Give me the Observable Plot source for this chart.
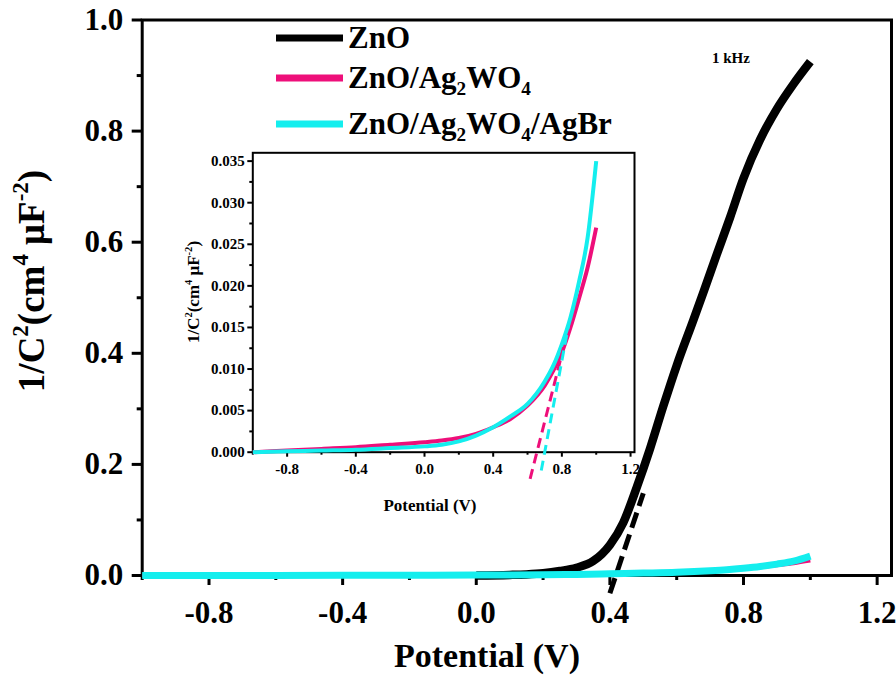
<!DOCTYPE html>
<html><head><meta charset="utf-8">
<script src="https://cdn.jsdelivr.net/npm/d3@7"></script>
<script src="https://cdn.jsdelivr.net/npm/@observablehq/plot@0.6"></script>
<style>
html,body{margin:0;padding:0;background:#fff;color:#000;}
#wrap{position:relative;width:896px;height:680px;overflow:hidden;}
#wrap svg{position:absolute;}
</style></head><body><div id="wrap"></div>
<script>
// ---- data ----
const potential = [-1.0,-0.8,-0.6,-0.4,-0.2,0.0,0.1,0.2,0.3,0.4,0.5,0.6,0.7,0.75,0.8,0.85,0.9,0.95,1.0];
const agwoValues = [0.0000,0.0002,0.0004,0.0006,0.0009,0.0012,0.0014,0.0017,0.0022,0.0030,0.0040,0.0056,0.0080,0.0098,0.0120,0.0150,0.0185,0.0222,0.0270];
const agbrValues = [0.0000,0.0001,0.0002,0.0003,0.0005,0.0007,0.0009,0.0013,0.0020,0.0030,0.0043,0.0058,0.0085,0.0104,0.0130,0.0162,0.0205,0.0258,0.0350];
const znoPotential = [0.0,0.1,0.15,0.2,0.25,0.3,0.35,0.4,0.44,0.48,0.52,0.56,0.6,0.65,0.68,0.72,0.76,0.8,0.85,0.9,0.95,1.0];
const znoValues = [0,0.001,0.002,0.004,0.008,0.014,0.026,0.055,0.095,0.158,0.228,0.305,0.378,0.46,0.51,0.578,0.645,0.715,0.785,0.84,0.885,0.925];
// Mott-Schottky tangent lines (end points)
const znoFitX = [0.40, 0.50];
const znoFitY = [-0.032, 0.148];
const agwoFitX = [0.615, 0.81];
const agwoFitY = [-0.0032, 0.0126];
const agbrFitX = [0.68, 0.84];
const agbrFitY = [-0.0022, 0.0154];
// ticks
const xMajor = [-0.8,-0.4,0,0.4,0.8,1.2];
const xMinor = [-1.0,-0.6,-0.2,0.2,0.6,1.0];
const yMajor = [0,0.2,0.4,0.6,0.8,1.0];
const yMinor = [0.1,0.3,0.5,0.7,0.9];
const insetYMajor = [0,0.005,0.010,0.015,0.020,0.025,0.030,0.035];
const insetYMinor = [0.0025,0.0075,0.0125,0.0175,0.0225,0.0275,0.0325];
const seriesNames = ["ZnO","ZnO/Ag2WO4","ZnO/Ag2WO4/AgBr"];
const seriesColors = ["#000000","#ee0f7a","#14eeee"];

const FONT = "'Liberation Serif','Times New Roman',Times,serif";
const toRows = (xs, ys) => xs.map((x, i) => ({x, y: ys[i]}));
const zno = toRows(znoPotential, znoValues);
const agwo = toRows(potential, agwoValues);
const agbr = toRows(potential, agbrValues);

const wrap = document.getElementById("wrap");

const main = Plot.plot({
  width: 896, height: 680,
  marginLeft: 141.7, marginRight: 5, marginTop: 19.5, marginBottom: 105,
  x: {domain: [-1, 1.243], label: null},
  y: {domain: [0, 1], label: null},
  style: {fontFamily: FONT, fontWeight: "bold", fontSize: "31px", color: "#000", background: "transparent", overflow: "visible"},
  marks: [
    Plot.frame({stroke: "#000", strokeWidth: 3}),
    Plot.axisX({ticks: xMinor, tickSize: 5, strokeWidth: 3, tickFormat: () => "", label: null}),
    Plot.axisX({ticks: xMajor, tickSize: 10, tickPadding: 15, strokeWidth: 3, tickFormat: d => d.toFixed(1), label: null}),
    Plot.axisY({ticks: yMinor, tickSize: 5, strokeWidth: 3, tickFormat: () => "", label: null}),
    Plot.axisY({ticks: yMajor, tickSize: 10, tickPadding: 9, strokeWidth: 3, tickFormat: d => d.toFixed(1), label: null}),
    Plot.line(zno, {x: "x", y: "y", stroke: seriesColors[0], strokeWidth: 8.5, curve: "monotone-x", strokeLinecap: "butt"}),
    Plot.line(toRows(znoFitX, znoFitY), {x: "x", y: "y", stroke: "#000", strokeWidth: 5, strokeDasharray: "16,7", strokeLinecap: "butt"}),
    Plot.line(agwo, {x: "x", y: "y", stroke: seriesColors[1], strokeWidth: 4, curve: "monotone-x", strokeLinecap: "butt"}),
    Plot.line(agbr, {x: "x", y: "y", stroke: seriesColors[2], strokeWidth: 7, curve: "monotone-x", strokeLinecap: "butt"})
  ]
});
main.style.left = "0px"; main.style.top = "0px";
wrap.appendChild(main);

const inset = Plot.plot({
  width: 500, height: 390,
  marginLeft: 102.3, marginRight: 16, marginTop: 12.3, marginBottom: 78.3,
  x: {domain: [-1, 1.223], label: null},
  y: {domain: [0, 0.036], label: null},
  style: {fontFamily: FONT, fontWeight: "bold", fontSize: "15px", color: "#000", background: "transparent", overflow: "visible"},
  marks: [
    Plot.frame({stroke: "#000", strokeWidth: 2}),
    Plot.axisX({ticks: xMinor, tickSize: 3, strokeWidth: 2, tickFormat: () => "", label: null}),
    Plot.axisX({ticks: xMajor, tickSize: 5, tickPadding: 6.5, strokeWidth: 2, tickFormat: d => d.toFixed(1), label: null}),
    Plot.axisY({ticks: insetYMinor, tickSize: 3, strokeWidth: 2, tickFormat: () => "", label: null}),
    Plot.axisY({ticks: insetYMajor, tickSize: 5, tickPadding: 3, strokeWidth: 2, tickFormat: d => d.toFixed(3), label: null}),
    Plot.line(agwo, {x: "x", y: "y", stroke: seriesColors[1], strokeWidth: 4, curve: "monotone-x", strokeLinecap: "butt"}),
    Plot.line(agbr, {x: "x", y: "y", stroke: seriesColors[2], strokeWidth: 4, curve: "monotone-x", strokeLinecap: "butt"}),
    Plot.line(toRows(agwoFitX, agwoFitY), {x: "x", y: "y", stroke: seriesColors[1], strokeWidth: 3, strokeDasharray: "10,6", strokeLinecap: "butt"}),
    Plot.line(toRows(agbrFitX, agbrFitY), {x: "x", y: "y", stroke: seriesColors[2], strokeWidth: 3, strokeDasharray: "10,6", strokeLinecap: "butt"})
  ]
});
inset.style.left = "150px"; inset.style.top = "140px";
wrap.appendChild(inset);

// ---- rich text helper (super/subscripts) ----
function rich(text, parts, size) {
  let shift = 0;
  parts.forEach(([t, kind]) => {
    const fs = kind ? size * 0.62 : size;
    const target = kind === "sup" ? -size * 0.42 : kind === "sub" ? size * 0.24 : 0;
    text.append("tspan").attr("font-size", fs).attr("dy", target - shift).text(t);
    shift = target;
  });
}
const svg = d3.select(main);
const T = (x, y, size, anchor) => svg.append("text")
  .attr("x", x).attr("y", y).attr("font-family", FONT).attr("font-weight", "bold")
  .attr("font-size", size).attr("text-anchor", anchor).attr("fill", "#000");

const ylabParts = [["1/C"],["2","sup"],["(cm"],["4","sup"],[" \u03bcF"],["-2","sup"],[")"]];

// main axis titles
rich(T(487, 667, 34, "middle"), [["Potential (V)"]], 34);
rich(svg.append("text").attr("transform", "translate(44,281) rotate(-90)")
  .attr("font-family", FONT).attr("font-weight", "bold").attr("font-size", 37)
  .attr("text-anchor", "middle").attr("fill", "#000"), ylabParts, 37);

// inset axis titles
rich(T(430, 511, 17, "middle"), [["Potential (V)"]], 17);
rich(svg.append("text").attr("transform", "translate(199,292) rotate(-90)")
  .attr("font-family", FONT).attr("font-weight", "bold").attr("font-size", 17)
  .attr("text-anchor", "middle").attr("fill", "#000"), ylabParts, 17);

// frequency note
T(712, 63, 15, "start").text("1 kHz");

// legend
const legendParts = [
  [["ZnO"]],
  [["ZnO/Ag"],["2","sub"],["WO"],["4","sub"]],
  [["ZnO/Ag"],["2","sub"],["WO"],["4","sub"],["/AgBr"]]
];
const legendY = [38, 78, 124];
seriesNames.forEach((name, i) => {
  svg.append("line").attr("x1", 276).attr("x2", 343).attr("y1", legendY[i]).attr("y2", legendY[i])
    .attr("stroke", seriesColors[i]).attr("stroke-width", 7);
  rich(T(348, legendY[i] + 10, 31, "start"), legendParts[i], 31);
});
</script></body></html>
